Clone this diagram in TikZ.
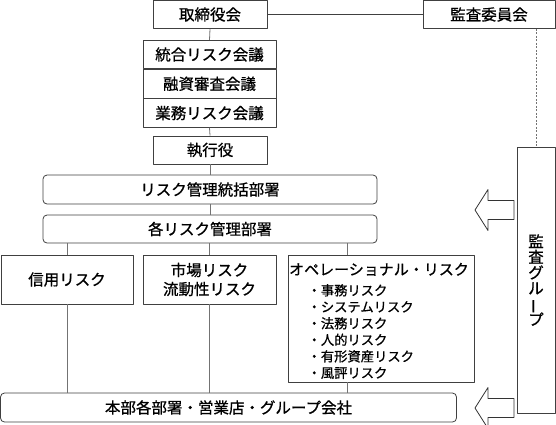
\documentclass[tikz,border=0pt]{standalone}
\usepackage{fontspec}
\setmainfont{Noto Sans CJK JP}[FakeBold=0.8]
\usepackage{graphicx}
\usetikzlibrary{positioning,calc}

\begin{document}
\begin{tikzpicture}[x=1pt,y=-1pt,line join=round,
  box/.style={draw=black!75,line width=0.8pt,fill=white,inner sep=0pt,
    font=\fontsize{15.5}{19}\selectfont},
  roundbox/.style={box,rounded corners=4pt},
  link/.style={draw=black!55,line width=0.8pt},
  arrowline/.style={draw=black!80,line width=0.8pt,fill=white}]
  \useasboundingbox (0,0) rectangle (556,424);

  % #1 is y of the arrow tip
  \newcommand{\hollowarrow}[1]{
    \path[arrowline] (475,#1) -- (488,#1-20.5) -- (488,#1-9.5) -- (514,#1-9.5)
      -- (514,#1+9.5) -- (488,#1+9.5) -- (488,#1+20.5) -- cycle;
  }

  \node[box,minimum width=114,minimum height=28] (board) at (210,14.5) {取締役会};
  \node[box,minimum width=132,minimum height=28] (audit_committee) at (489,14.5) {監査委員会};

  \node[box,minimum width=133,minimum height=28.5] (risk_conf) at (209.5,54.5) {統合リスク会議};
  \node[box,minimum width=133,minimum height=28.5,below=0pt of risk_conf] (loan_conf) {融資審査会議};
  \node[box,minimum width=133,minimum height=28.5,below=0pt of loan_conf] (ops_conf) {業務リスク会議};

  \node[box,minimum width=114,minimum height=28] (exec) at (210,150) {執行役};

  \node[roundbox,minimum width=334,minimum height=29] (risk_hq) at (210,189.5) {リスク管理統括部署};
  \node[roundbox,minimum width=334,minimum height=28] (each_risk) at (210,229) {各リスク管理部署};

  \node[box,minimum width=132,minimum height=49] (credit) at (67,279.5) {信用リスク};
  \node[box,minimum width=133,minimum height=49,align=center] (market) at (209.5,279.5) {市場リスク\\流動性リスク};
  \node[box,minimum width=186,minimum height=127] (oprisk) at (381,318.5) {};
  \node[font=\fontsize{15}{18}\selectfont,inner sep=0pt,anchor=base] (oprisk_title) at (379,275) {オペレーショナル・リスク};
  \node[font=\fontsize{13.3}{16.5}\selectfont,inner sep=0pt,align=left,anchor=north west] (oprisk_list) at (307.4,284)
    {・事務リスク\\・システムリスク\\・法務リスク\\・人的リスク\\・有形資産リスク\\・風評リスク};

  \node[roundbox,minimum width=456,minimum height=29] (head_office) at (228.5,407.5) {本部各部署・営業店・グループ会社};

  \node[box,minimum width=38,minimum height=266,align=center,font=\fontsize{15.5}{15.6}\selectfont] (audit_group) at (536,280)
    {監\\査\\グ\\ル\\\smash{\rotatebox[origin=c]{90}{ー}}\\プ};

  \coordinate (op_top) at (347,255);
  \coordinate (op_bottom) at (347,382);

  \draw[link,draw=black!75] (board.east) -- (audit_committee.west);
  \draw[link,dash pattern=on 2pt off 1.5pt] (audit_committee.south -| audit_group.north) -- (audit_group.north);
  \draw[link] (board.south) -- (risk_conf.north);
  \draw[link] (ops_conf.south) -- (exec.north);
  \draw[link] (exec.south) -- (risk_hq.north);
  \draw[link] (risk_hq.south) -- (each_risk.north);
  \draw[link] (credit.north |- each_risk.south) -- (credit.north);
  \draw[link] (market.north |- each_risk.south) -- (market.north);
  \draw[link] (op_top |- each_risk.south) -- (op_top);
  \draw[link] (credit.south) -- (credit.south |- head_office.north);
  \draw[link] (market.south) -- (market.south |- head_office.north);
  \draw[link] (op_bottom) -- (op_bottom |- head_office.north);

  \hollowarrow{210}
  \hollowarrow{408}

\end{tikzpicture}
\end{document}
